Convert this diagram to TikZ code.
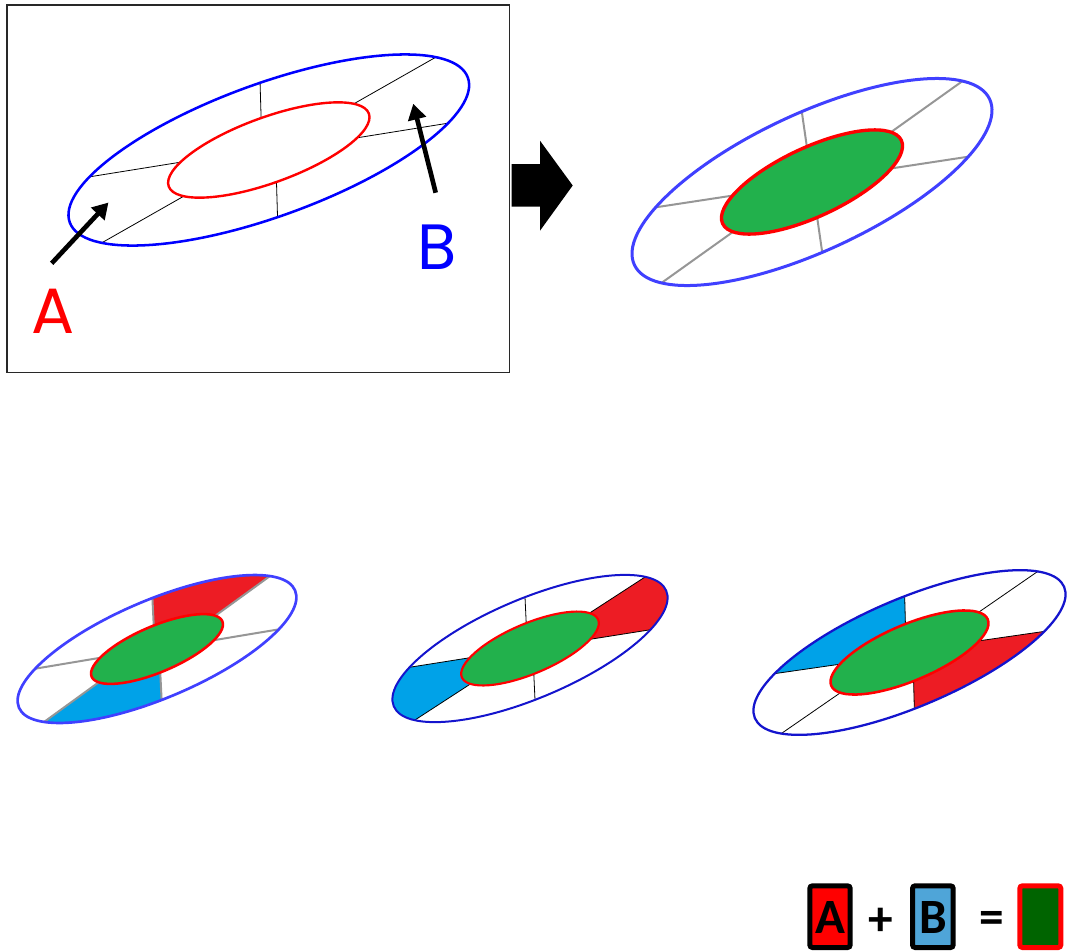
\documentclass[tikz,border=0pt]{standalone}
\usepackage{fontspec}
\newfontfamily\poppinsfont{Poppins}
\newfontfamily\carlitofont{Carlito}

\tikzset{every picture/.style={line width=0.75pt}}
\tikzset{
  blueedge/.style={draw={rgb, 255:red, 0; green, 0; blue, 255 }, line width=1.9pt},
  softblueedge/.style={draw={rgb, 255:red, 64; green, 64; blue, 255 }, line width=2pt},
  darkblueedge/.style={draw={rgb, 255:red, 20; green, 20; blue, 205 }, line width=1.5pt},
  rededge/.style={draw={rgb, 255:red, 255; green, 0; blue, 0 }, line width=1.8pt},
  greencore/.style={rededge, fill={rgb, 255:red, 34; green, 177; blue, 76 }},
  spoke/.style={draw={rgb, 255:red, 0; green, 0; blue, 0 }, line width=0.6pt},
  greyspoke/.style={draw={rgb, 255:red, 150; green, 150; blue, 150 }, line width=1.5pt},
  redpart/.style={fill={rgb, 255:red, 237; green, 28; blue, 36 }},
  bluepart/.style={fill={rgb, 255:red, 0; green, 162; blue, 232 }},
  headtip/.style={fill={rgb, 255:red, 0; green, 0; blue, 0 }, draw opacity=0, line width=0.08},
  bigletter/.style={font=\poppinsfont\fontsize{48}{48}\selectfont, inner sep=0pt},
  legendbox/.style={line width=3.75pt, rounded corners=2pt},
  legendtext/.style={font=\carlitofont\bfseries\fontsize{37}{37}\selectfont, inner sep=0pt}
}

\begin{document}
\begin{tikzpicture}[x=0.75pt,y=0.75pt,yscale=-1,xscale=1]
\path [use as bounding box] (0,0) rectangle (1070,950);
\clip (0,0) rectangle (1070,950);

%Shape: Rectangle [frame of the first view]
\draw  [draw={rgb, 255:red, 40; green, 40; blue, 40 }, line width=1.1pt] (7,5) -- (509.5,5) -- (509.5,372.5) -- (7,372.5) -- cycle ;

%first view: the outline only
\begin{scope}[shift={(268.8,150)}, rotate=-20]
	%Straight Lines
	\draw [spoke] (-88:106.5 and 32.7) -- (-86:211.8 and 66.3) ;
	\draw [spoke] (-26:106.5 and 32.7) -- (-27:211.8 and 66.3) ;
	\draw [spoke] (35:106.5 and 32.7) -- (33:211.8 and 66.3) ;
	\draw [spoke] (92:106.5 and 32.7) -- (94:211.8 and 66.3) ;
	\draw [spoke] (154:106.5 and 32.7) -- (153:211.8 and 66.3) ;
	\draw [spoke] (215:106.5 and 32.7) -- (213:211.8 and 66.3) ;
	%Shape: Ellipse
	\draw [blueedge] (0,0) ellipse [x radius=211.8, y radius=66.3] ;
	%Shape: Ellipse
	\draw [rededge] (0,0) ellipse [x radius=106.5, y radius=32.7] ;
\end{scope}

%Straight Lines [arrow to A]
\draw [line width=3.5pt]   (51.7,263.3) -- (100.8,210.7) ;
\draw [shift={(108.3,202.7)}, rotate = 133.05] [headtip] (15.5,-9.5) -- (0,0) -- (15.5,9.5) -- cycle    ;
%Straight Lines [arrow to B]
\draw [line width=3.5pt]   (435.7,192.7) -- (416,114.7) ;
\draw [shift={(413.3,104)}, rotate = 75.83] [headtip] (15.5,-9.5) -- (0,0) -- (15.5,9.5) -- cycle    ;

% Text Node
\draw (53,311.7) node (labA) [bigletter, color={rgb, 255:red, 255; green, 0; blue, 0 }] {A};
% Text Node
\draw (437,247) node (labB) [bigletter, color={rgb, 255:red, 0; green, 0; blue, 255 }] {B};

%Shape: Right Arrow
\draw  [fill={rgb, 255:red, 0; green, 0; blue, 0 }, draw opacity=0] (511.7,164) -- (540,164) -- (540,140.7) -- (572.7,185.5) -- (540,230.7) -- (540,206.7) -- (511.7,206.7) -- cycle ;

%second view: the overlap
\begin{scope}[shift={(812,182)}, rotate=-25]
	\draw [greyspoke] (-84:98.6 and 34.5) -- (-84:196 and 68.5) ;
	\draw [greyspoke] (-20:98.6 and 34.5) -- (-24:196 and 68.5) ;
	\draw [greyspoke] (38:98.6 and 34.5) -- (39:196 and 68.5) ;
	\draw [greyspoke] (96:98.6 and 34.5) -- (96:196 and 68.5) ;
	\draw [greyspoke] (160:98.6 and 34.5) -- (156:196 and 68.5) ;
	\draw [greyspoke] (218:98.6 and 34.5) -- (219:196 and 68.5) ;
	\draw [softblueedge, line width=2.25pt] (0,0) ellipse [x radius=196, y radius=68.5] ;
	\draw [greencore, line width=2.5pt] (0,0) ellipse [x radius=98.6, y radius=34.5] ;
\end{scope}

%bottom left
\begin{scope}[shift={(157,649)}, rotate=-23]
	\fill [redpart] (-85:71 and 23) -- (-84:150 and 49) arc [start angle=-84, end angle=-28, x radius=150, y radius=49] -- (-20:71 and 23) -- (0,0) -- cycle ;
	\fill [bluepart] (95:71 and 23) -- (96:150 and 49) arc [start angle=96, end angle=152, x radius=150, y radius=49] -- (160:71 and 23) -- (0,0) -- cycle ;
	\draw [greyspoke] (-85:71 and 23) -- (-84:150 and 49) ;
	\draw [greyspoke] (-20:71 and 23) -- (-28:150 and 49) ;
	\draw [greyspoke] (38:71 and 23) -- (37:150 and 49) ;
	\draw [greyspoke] (95:71 and 23) -- (96:150 and 49) ;
	\draw [greyspoke] (160:71 and 23) -- (152:150 and 49) ;
	\draw [greyspoke] (218:71 and 23) -- (217:150 and 49) ;
	\draw [softblueedge] (0,0) ellipse [x radius=150, y radius=49] ;
	\draw [greencore, line width=1.9pt] (0,0) ellipse [x radius=71, y radius=23] ;
\end{scope}

%bottom middle
\begin{scope}[shift={(530,648.5)}, rotate=-23]
	\fill [redpart] (-22:74 and 25) -- (-25:148 and 49.5) arc [start angle=-25, end angle=37, x radius=148, y radius=49.5] -- (37:74 and 25) -- (0,0) -- cycle ;
	\fill [bluepart] (158:74 and 25) -- (155:148 and 49.5) arc [start angle=155, end angle=217, x radius=148, y radius=49.5] -- (217:74 and 25) -- (0,0) -- cycle ;
	\draw [spoke] (-85:74 and 25) -- (-84:148 and 49.5) ;
	\draw [spoke] (-22:74 and 25) -- (-25:148 and 49.5) ;
	\draw [spoke] (37:74 and 25) -- (37:148 and 49.5) ;
	\draw [spoke] (95:74 and 25) -- (96:148 and 49.5) ;
	\draw [spoke] (158:74 and 25) -- (155:148 and 49.5) ;
	\draw [spoke] (217:74 and 25) -- (217:148 and 49.5) ;
	\draw [darkblueedge] (0,0) ellipse [x radius=148, y radius=49.5] ;
	\draw [greencore, line width=1.6pt] (0,0) ellipse [x radius=74, y radius=25] ;
\end{scope}

%bottom right
\begin{scope}[shift={(909.5,652.5)}, rotate=-23]
	\fill [bluepart] (216:85 and 28) -- (218:168 and 54) arc [start angle=218, end angle=276, x radius=168, y radius=54] -- (275:85 and 28) -- (0,0) -- cycle ;
	\fill [redpart] (36:85 and 28) -- (38:168 and 54) arc [start angle=38, end angle=96, x radius=168, y radius=54] -- (95:85 and 28) -- (0,0) -- cycle ;
	\draw [spoke] (-85:85 and 28) -- (-84:168 and 54) ;
	\draw [spoke] (-21:85 and 28) -- (-27:168 and 54) ;
	\draw [spoke] (36:85 and 28) -- (38:168 and 54) ;
	\draw [spoke] (95:85 and 28) -- (96:168 and 54) ;
	\draw [spoke] (159:85 and 28) -- (153:168 and 54) ;
	\draw [spoke] (216:85 and 28) -- (218:168 and 54) ;
	\draw [darkblueedge, line width=1.7pt] (0,0) ellipse [x radius=168, y radius=54] ;
	\draw [greencore, line width=1.9pt] (0,0) ellipse [x radius=85, y radius=28] ;
\end{scope}

%Shape: Rectangle [legend]
\draw [legendbox, fill={rgb, 255:red, 255; green, 0; blue, 0 }] (809.8,885.8) rectangle (850.2,947.5) ;
% Text Node
\draw (830,917.5) node (keyA) [legendtext] {A};
% Text Node
\draw (881,921.7) node (plus) [legendtext] {+};
%Shape: Rectangle
\draw [legendbox, fill={rgb, 255:red, 79; green, 165; blue, 216 }] (912.5,885.8) rectangle (953.2,947.5) ;
% Text Node
\draw (933.3,917.5) node (keyB) [legendtext] {B};
% Text Node
\draw (992,922.5) node (equals) [legendtext] {=};
%Shape: Rectangle
\draw [legendbox, draw={rgb, 255:red, 255; green, 0; blue, 0 }, fill={rgb, 255:red, 0; green, 100; blue, 0 }] (1019.8,885.8) rectangle (1060.8,947.5) ;

\end{tikzpicture}
\end{document}
